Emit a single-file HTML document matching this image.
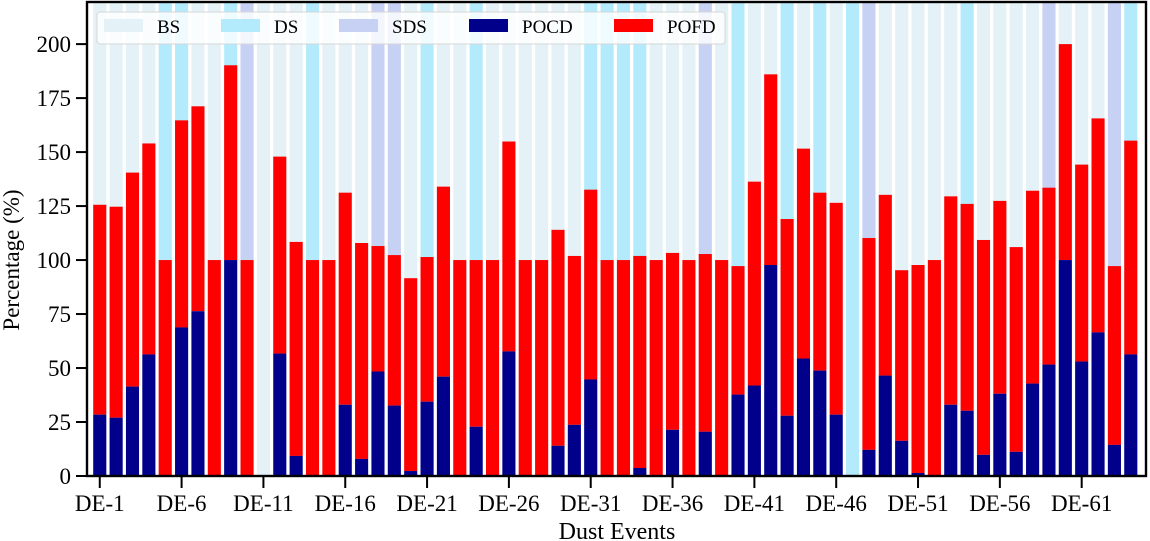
<!DOCTYPE html>
<html><head><meta charset="utf-8"><style>
html,body{margin:0;padding:0;background:#fff;}
svg{display:block;font-family:"Liberation Serif","DejaVu Serif",serif;}
</style></head><body>
<svg id="chart" width="1150" height="541" viewBox="0 0 1150 541" xmlns="http://www.w3.org/2000/svg">
<g id="bg"></g>
<g id="bars"></g>
<g id="axes"></g>
<g id="legend"></g>
<text x="0" y="0" transform="translate(19,260) rotate(-90)" text-anchor="middle" font-size="23">Percentage (%)</text>
<text x="617" y="539" text-anchor="middle" font-size="24">Dust Events</text>
</svg>
<script>
const eventTypes = ["BS","BS","BS","BS","DS","DS","BS","BS","DS","SDS","BS","BS","BS","DS","BS","BS","BS","SDS","SDS","BS","DS","BS","BS","DS","BS","BS","BS","BS","BS","BS","DS","DS","DS","DS","BS","BS","BS","SDS","BS","DS","BS","BS","DS","BS","DS","BS","DS","SDS","BS","BS","BS","BS","BS","DS","BS","BS","BS","BS","SDS","BS","BS","BS","SDS","DS"];
const totals = [125.6,124.7,140.5,154,100,164.7,171.2,100,190.2,100,0,147.9,108.4,100,100,131.2,107.9,106.5,102.3,91.6,101.4,134,100,100,100,154.9,100,100,114,101.9,132.6,100,100,101.9,100,103.3,100,102.8,100,97.2,136.3,186,119,151.6,131.2,126.5,0,110.2,130.2,95.3,97.7,100,129.5,126,109.3,127.4,106,132.1,133.5,200,144.2,165.6,97.2,155.3];
const pocd = [28.4,27,41.4,56.3,0,68.8,76.3,0,100,0,0,56.7,9.3,0,0,33,7.9,48.4,32.6,2.3,34.4,46,0,22.8,0,57.7,0,0,14,23.7,44.7,0,0,3.7,0,21.4,0,20.5,0,37.7,41.9,97.7,27.9,54.4,48.8,28.4,0,12.1,46.5,16.3,1.4,0,33,30.2,9.8,38.1,11.2,42.8,51.6,100,53,66.5,14.4,56.3];
const yTicks = [0,25,50,75,100,125,150,175,200];
const xTickIdx = [0,5,10,15,20,25,30,35,40,45,50,55,60];

const NS="http://www.w3.org/2000/svg";
const L=87,R=1146,T=2,B=476;
const xmin=-0.78,xmax=63.93,ymin=0,ymax=219.5;
const xs=v=>L+(v-xmin)/(xmax-xmin)*(R-L);
const ys=v=>B-(v-ymin)/(ymax-ymin)*(B-T);
const bw=0.8*(R-L)/(xmax-xmin);
const colors={BS:"#e4f2f7",DS:"#b3eafc",SDS:"#c6d1f3"};
function mk(tag,attrs,parent){const e=document.createElementNS(NS,tag);for(const k in attrs)e.setAttribute(k,attrs[k]);parent.appendChild(e);return e;}
const bg=document.getElementById('bg'),bars=document.getElementById('bars'),axes=document.getElementById('axes'),lg=document.getElementById('legend');
eventTypes.forEach((t,i)=>{
  const r=mk('rect',{x:xs(i)-bw/2,y:T,width:bw,height:B-T,fill:colors[t]},bg);
  
  
});
totals.forEach((tot,i)=>{
  const p=pocd[i];
  if(tot>p){
    const r=mk('rect',{x:xs(i)-bw/2,y:ys(tot),width:bw,height:ys(p)-ys(tot),fill:"#ff0000"},bars);
    
    
  }
  if(p>0){
    const r=mk('rect',{x:xs(i)-bw/2,y:ys(p),width:bw,height:ys(0)-ys(p),fill:"#00008b"},bars);
    
    
  }
});
const frame=mk('rect',{x:L,y:T,width:R-L,height:B-T,fill:"none",stroke:"#000","stroke-width":2.4},axes);


yTicks.forEach(v=>{
  const y=ys(v);
  const tk=mk('line',{x1:L-11,x2:L,y1:y,y2:y,stroke:"#000","stroke-width":2},axes);
  
  
  const tx=mk('text',{x:L-16,y:y+8,"text-anchor":"end","font-size":23},axes);
  tx.textContent=v;
  
  
});
xTickIdx.forEach(i=>{
  const x=xs(i);
  const tk=mk('line',{x1:x,x2:x,y1:B,y2:B+12,stroke:"#000","stroke-width":2},axes);
  
  
  const tx=mk('text',{x:x,y:511,"text-anchor":"middle","font-size":23},axes);
  tx.textContent='DE-'+(i+1);
  
  
});
const lbox=mk('rect',{x:97,y:12,width:628,height:32,rx:3,fill:"rgba(255,255,255,0.8)",stroke:"#d6d6d6","stroke-width":1},lg);


const legendItems=[["BS",colors.BS,104],["DS",colors.DS,221],["SDS",colors.SDS,339],["POCD","#00008b",469],["POFD","#ff0000",614]];
legendItems.forEach(([n,c,x])=>{
  const sw=mk('rect',{x:x,y:19,width:39,height:13,fill:c},lg);
  
  
  const tx=mk('text',{x:x+53,y:33,"font-size":19},lg);
  tx.textContent=n;
  
  
});
</script>
</body></html>
